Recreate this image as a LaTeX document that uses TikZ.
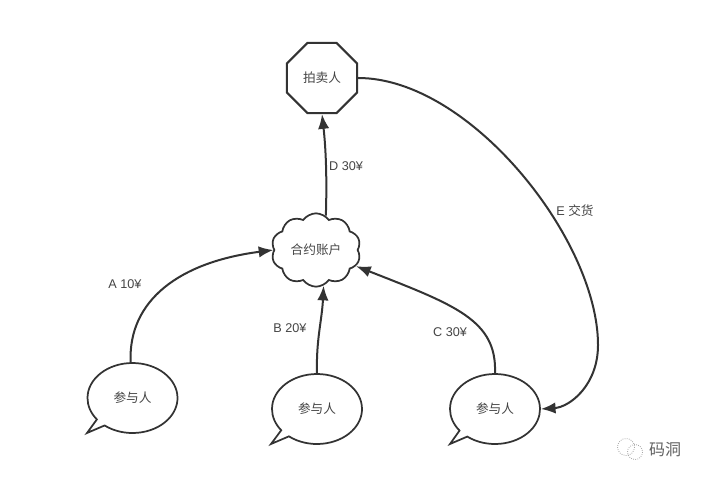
\documentclass[tikz,border=0pt]{standalone}
\usepackage{fontspec}
\setmainfont{Liberation Sans}
\newfontfamily\cjk{Noto Sans CJK SC}
\usetikzlibrary{arrows.meta,shapes.geometric,shapes.symbols,shapes.callouts}
\definecolor{LineClr}{rgb}{0.2,0.2,0.2}
\definecolor{TextClr}{rgb}{0.27,0.27,0.27}
\tikzset{
  seller/.style={draw=LineClr,fill=white,line width=1.6pt,regular polygon,regular polygon sides=8,minimum size=57pt,inner sep=0pt,text=TextClr,font=\cjk\fontsize{9.5}{11}\selectfont},
  account/.style={draw=LineClr,fill=white,line width=1.3pt,cloud,cloud puffs=10,cloud puff arc=110,aspect=1.2,minimum width=67pt,minimum height=55pt,inner sep=0pt,text=TextClr,font=\cjk\fontsize{9.5}{11}\selectfont},
  bidder/.style={draw=LineClr,fill=white,line width=1.3pt,ellipse callout,callout pointer arc=14,minimum width=67.5pt,minimum height=52.5pt,inner sep=0pt,text=TextClr,font=\cjk\fontsize{9.5}{11}\selectfont},
  conn/.style={draw=LineClr,line width=1.5pt,-{Latex[length=11pt,width=8.5pt]}},
  lab/.style={text=TextClr,font=\fontsize{9.5}{11}\selectfont,inner sep=0pt}
}
\begin{document}
\begin{tikzpicture}[x=.75pt,y=-.75pt]
\useasboundingbox[fill=white] (0,0) rectangle (705,481);

\node[seller] (S) at (322,78) {拍卖人};
\node[account] (C) at (316,250) {合约账户};
\node[bidder,callout absolute pointer={(87,433)}] (P1) at (132.5,398) {参与人};
\node[bidder,callout absolute pointer={(271,444)}] (P2) at (317,409) {参与人};
\node[bidder,callout absolute pointer={(450,444)}] (P3) at (495,409) {参与人};

\draw[conn] (P1.93) .. controls (128,300) and (180,262) .. (C.west);
\draw[conn] (P2.north) .. controls (316,340) and (322,320) .. (C.-78);
\draw[conn] (P3.north) .. controls (497,320) and (455,305) .. (C.-22);
\draw[conn] (C.74) .. controls (327,180) and (326,150) .. (S.south);
\draw[conn] (S.east) .. controls (470,78) and (598,240) .. (598,345) .. controls (598,385) and (570,407) .. (P3.east);

\node[lab] (LA) at (125,284) {A 10¥};
\node[lab] (LB) at (290,328) {B 20¥};
\node[lab] (LC) at (450,332) {C 30¥};
\node[lab] (LD) at (346,166) {D 30¥};
\node[lab] (LE) at (575,211) {E {\cjk 交货}};

% watermark
\draw[gray!70,densely dotted,line width=.6pt] (626,447) circle [radius=8.5];
\draw[gray!70,densely dotted,line width=.6pt] (635,452) circle [radius=7.5];
\node[text=TextClr!85,inner sep=0pt,font=\cjk\fontsize{12}{14}\selectfont] (W) at (665,450) {码洞};
\end{tikzpicture}
\end{document}
